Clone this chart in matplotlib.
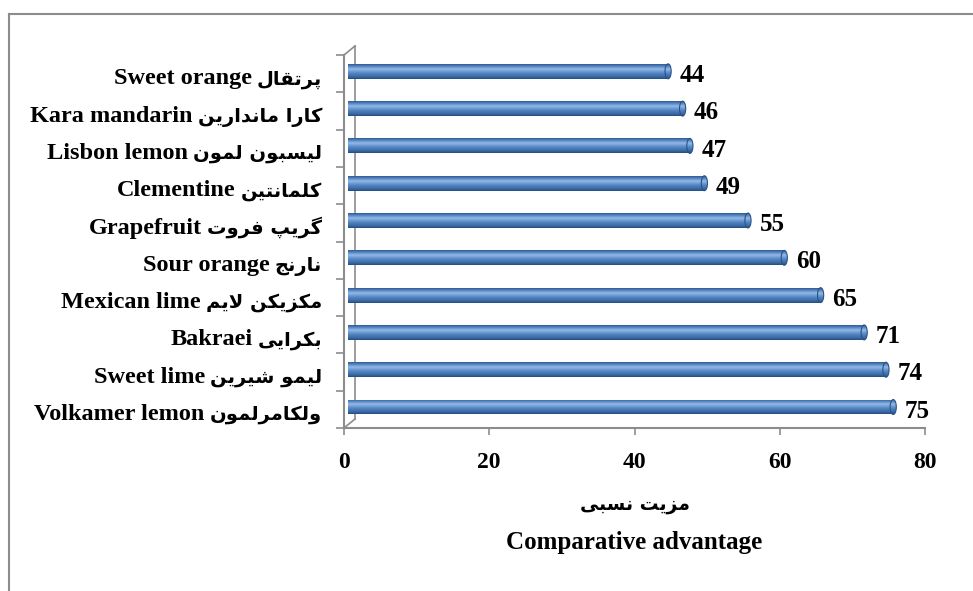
import numpy as np
import matplotlib
matplotlib.use('Agg')
import matplotlib.pyplot as plt
from matplotlib.patches import Ellipse
from matplotlib.colors import LinearSegmentedColormap
from matplotlib.lines import Line2D
from matplotlib.transforms import ScaledTranslation

# data, bottom bar first
names_en = ['Volkamer lemon', 'Sweet lime', 'Bakraei', 'Mexican lime', 'Sour orange',
            'Grapefruit', 'Clementine', 'Lisbon lemon', 'Kara mandarin', 'Sweet orange']
names_fa = ['ولکامرلمون', 'لیمو شیرین', 'بکرایی', 'مکزیکن لایم', 'نارنج',
            'گریپ فروت', 'کلمانتین', 'لیسبون لمون', 'کارا ماندارین', 'پرتقال']
values = [75, 74, 71, 65, 60, 55, 49, 47, 46, 44]
xticks = [0, 20, 40, 60, 80]
xlabel_fa = 'مزیت نسبی'
xlabel_en = 'Comparative advantage'

# contextual forms (isolated, final, initial, medial) - matplotlib does no arabic shaping
FORMS = {
    'ا': ('\uFE8D', '\uFE8E', None, None),
    'ب': ('\uFE8F', '\uFE90', '\uFE91', '\uFE92'),
    'پ': ('\uFB56', '\uFB57', '\uFB58', '\uFB59'),
    'ت': ('\uFE95', '\uFE96', '\uFE97', '\uFE98'),
    'ج': ('\uFE9D', '\uFE9E', '\uFE9F', '\uFEA0'),
    'د': ('\uFEA9', '\uFEAA', None, None),
    'ر': ('\uFEAD', '\uFEAE', None, None),
    'ز': ('\uFEAF', '\uFEB0', None, None),
    'س': ('\uFEB1', '\uFEB2', '\uFEB3', '\uFEB4'),
    'ش': ('\uFEB5', '\uFEB6', '\uFEB7', '\uFEB8'),
    'ف': ('\uFED1', '\uFED2', '\uFED3', '\uFED4'),
    'ق': ('\uFED5', '\uFED6', '\uFED7', '\uFED8'),
    '\u06A9': ('\uFB8E', '\uFB8F', '\uFB90', '\uFB91'),
    'گ': ('\uFB92', '\uFB93', '\uFB94', '\uFB95'),
    'ل': ('\uFEDD', '\uFEDE', '\uFEDF', '\uFEE0'),
    'م': ('\uFEE1', '\uFEE2', '\uFEE3', '\uFEE4'),
    'ن': ('\uFEE5', '\uFEE6', '\uFEE7', '\uFEE8'),
    'و': ('\uFEED', '\uFEEE', None, None),
    '\u06CC': ('\uFBFC', '\uFBFD', '\uFBFE', '\uFBFF'),
}


def shape(text):
    text = text.replace('\u0643', '\u06A9').replace('\u064A', '\u06CC')
    out = []
    last = None
    i = 0
    while i < len(text):
        c = text[i]
        if c not in FORMS:
            out.append(c)
            last = None
            i += 1
            continue
        jp = last is not None and FORMS[last][2] is not None
        if c == 'ل' and i + 1 < len(text) and text[i + 1] == 'ا':
            out.append('\uFEFC' if jp else '\uFEFB')
            last = 'ا'
            i += 2
            continue
        nxt = text[i + 1] if i + 1 < len(text) else None
        jn = FORMS[c][2] is not None and nxt in FORMS
        iso, fin, ini, med = FORMS[c]
        out.append(med if jp and jn else fin if jp else ini if jn else iso)
        last = c
        i += 1
    return ''.join(reversed(out))


plt.rcParams['font.family'] = ['Liberation Serif', 'DejaVu Sans']
plt.rcParams['font.weight'] = 'bold'

fig = plt.figure(figsize=(9.73, 5.91), dpi=100)
ax = fig.add_axes([344 / 973, 163 / 591, 581 / 973, 373 / 591])

grey = '#8c8c8c'
ylo, yhi = -0.5625, 9.4375
px_x = 581 / 80.0        # pixels per x unit
px_y = 373 / 10.0        # pixels per category
ddx, ddy = 11 / px_x, 9 / px_y   # 3d depth

cmap = LinearSegmentedColormap.from_list(
    'cyl', ['#2f5c93', '#5a8bc8', '#93b9e6', '#6b9ad3', '#4d7fbd', '#3d6ca8', '#244d80'])
grad = np.linspace(0, 1, 64).reshape(-1, 1)

ypos = np.arange(len(values))
h = 0.40
x0 = 0.55
cap_w = 0.85

for y, v in zip(ypos, values):
    right = v + 1.05 - cap_w / 2
    bar = ax.barh(y, right - x0, left=x0, height=h, color='none', edgecolor='none')[0]
    im = ax.imshow(grad, cmap=cmap, extent=(x0, right, y - h / 2, y + h / 2),
                   aspect='auto', origin='upper', zorder=2)
    im.set_clip_path(bar)
    cap = Ellipse((right, y), cap_w, h, facecolor='none', edgecolor='#2a5283', lw=0.8, zorder=4)
    ax.add_patch(cap)
    im2 = ax.imshow(grad, cmap=cmap, extent=(right - cap_w / 2, right + cap_w / 2, y - h / 2, y + h / 2),
                    aspect='auto', origin='upper', zorder=3)
    im2.set_clip_path(cap)
    ax.annotate(str(v), (v + 1.05, y), xytext=(6, -3), textcoords='offset points',
                ha='left', va='center', fontsize=18, fontweight='bold', family='Liberation Serif')

ax.set_xlim(0, 80)
ax.set_ylim(ylo, yhi)

# back wall edges of the 3d frame
ax.plot([ddx, ddx], [ylo + ddy, yhi + ddy], color=grey, lw=1.2, clip_on=False, zorder=1)
ax.plot([0, ddx], [yhi, yhi + ddy], color=grey, lw=1.2, clip_on=False, zorder=1)
ax.plot([0, ddx], [ylo, ylo + ddy], color=grey, lw=1.2, clip_on=False, zorder=1)

ax.set_yticks(np.arange(11) + ylo)
ax.set_yticklabels([])
ax.tick_params(axis='y', length=6, color=grey, width=1.2)

# category labels: english (serif) followed by persian on the right
renderer = fig.canvas.get_renderer()
for y, en, fa in zip(ypos, names_en, names_fa):
    tr = ax.get_yaxis_transform() + ScaledTranslation(-22 / 100, -13 / 100, fig.dpi_scale_trans)
    t_fa = ax.text(0, y, shape(fa), transform=tr, ha='right', va='baseline',
                   fontsize=14, fontweight='bold', family='DejaVu Sans')
    w = t_fa.get_window_extent(renderer).width
    tr2 = ax.get_yaxis_transform() + ScaledTranslation(-(22 + w + 5) / 100, -13 / 100, fig.dpi_scale_trans)
    ax.text(0, y, en, transform=tr2, ha='right', va='baseline',
            fontsize=17.5, fontweight='bold', family='Liberation Serif')

ax.set_xticks(xticks)
ax.set_xticklabels([str(t) for t in xticks], fontsize=17, fontweight='bold')
ax.tick_params(axis='x', length=5, color=grey, width=1.2, pad=12)

for s in ['top', 'right']:
    ax.spines[s].set_visible(False)
for s in ['left', 'bottom']:
    ax.spines[s].set_color(grey)
    ax.spines[s].set_linewidth(1.5)

fig.text(634.5 / 973, 1 - 505 / 591, shape(xlabel_fa), ha='center', va='center',
         fontsize=13.5, fontweight='bold', family='DejaVu Sans')
fig.text(634.5 / 973, 1 - 543 / 591, xlabel_en, ha='center', va='center',
         fontsize=18, fontweight='bold')

# outer chart frame (only top and left edges are in view)
fig.add_artist(Line2D([9 / 973, 1], [1 - 14 / 591, 1 - 14 / 591], transform=fig.transFigure, color=grey, lw=1.5))
fig.add_artist(Line2D([9 / 973, 9 / 973], [0, 1 - 14 / 591], transform=fig.transFigure, color=grey, lw=1.5))

fig.savefig('out.png', dpi=100)
